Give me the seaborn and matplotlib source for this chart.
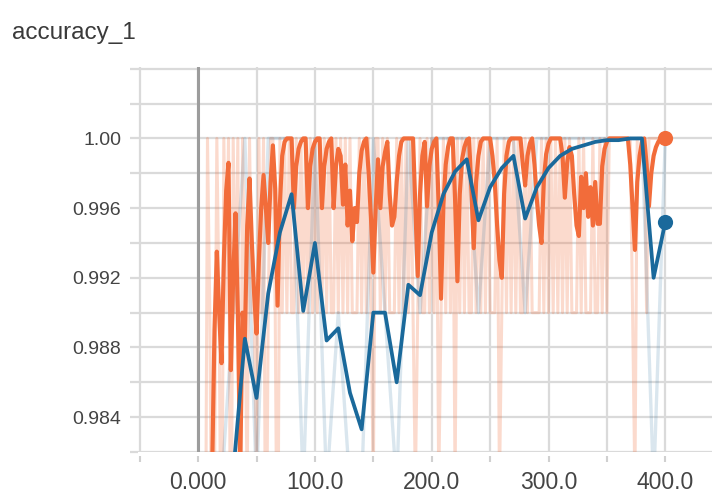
import matplotlib
matplotlib.use("Agg")
import matplotlib.pyplot as plt
import matplotlib.ticker as mticker
import seaborn as sns

# ---- data ----
# orange run: one value every 2 steps (0 .. 400)
orange_steps = list(range(0, 401, 2))
orange_raw = [
    .95, .97, .98, .97, 1, .99, .97, .98, 1, .99,
    .97, 1, .99, 1, .97, 1, .99, 1, .97, 1,
    .99, .98, 1, .99, .99, .98, 1, .99, 1, .97,
    .99, 1, 1, .99, .97, 1, .99, 1, .99, 1,
    .99, .99, 1, .99, 1, .99, 1, .99, 1, .99,
    1, .99, 1, .99, 1, .99, 1, .99, .99, 1,
    .99, 1, .99, 1, .99, 1, .99, .99, .99, 1,
    .99, 1, .99, 1, .99, .98, 1, 1, .99, 1,
    .99, 1, .99, .99, .99, 1, .99, 1, .99, 1,
    .99, 1, .99, .98, .99, 1, .99, .99, 1, .99,
    1, .99, 1, .98, .99, 1, .99, 1, .99, 1,
    .98, 1, .99, 1, .99, 1, .99, .99, 1, .99,
    1, .99, 1, .99, 1, .99, .99, .99, 1, .98,
    .99, 1, .99, 1, .99, 1, .99, 1, .99, .99,
    1, .99, 1, .99, .99, .99, .99, 1, .99, 1,
    .99, 1, .99, 1, .99, 1, .99, 1, .99, 1,
    .99, .99, .99, 1, .99, 1, .99, .99, .99, 1,
    .99, .99, 1, .99, 1, .99, 1, 1, 1, 1,
    1, 1, 1, 1, 1, 1, .99, .98, 1, 1,
    1, 1, .99, 1, 1, 1, 1, 1, 1, 1,
    1,
]
orange_smooth = [
    0.930, 0.950, 0.960, 0.970, 0.975, 0.978, 0.981, 0.989, 0.9935, 0.9900,
    0.9871, 0.9930, 0.9970, 0.9986, 0.9867, 0.9920, 0.9957, 0.9900, 0.9810, 0.9900,
    0.9885, 0.9950, 0.9977, 0.9940, 0.9910, 0.9888, 0.9930, 0.9960, 0.9979, 0.9960,
    0.9940, 0.9975, 0.9996, 0.9971, 0.9904, 0.9962, 0.9990, 0.9998, 1.0, 1.0,
    1.0, 0.9960, 0.9984, 0.9994, 0.9998, 1.0, 1.0, 0.9960, 0.9984, 0.9994,
    0.9998, 1.0, 1.0, 0.9960, 0.9984, 0.9994, 0.9998, 1.0, 0.9960, 0.9984,
    0.9994, 0.9990, 0.9962, 0.9985, 0.9950, 0.9970, 0.9941, 0.9960, 0.9952, 0.9980,
    0.9993, 0.9998, 1.0, 0.9980, 0.9954, 0.9923, 0.9960, 0.9988, 0.9960, 0.9984,
    0.9992, 0.9998, 0.9968, 0.9950, 0.9955, 0.9975, 0.9990, 0.9998, 1.0, 1.0,
    1.0, 1.0, 1.0, 0.9960, 0.9921, 0.9968, 0.9990, 0.9998, 0.9961, 0.9984,
    0.9994, 0.9998, 1.0, 0.9960, 0.9908, 0.9962, 0.9985, 0.9995, 1.0, 1.0,
    0.9965, 0.9918, 0.9968, 0.9988, 0.9995, 0.9999, 1.0, 0.9970, 0.9937, 0.9975,
    0.9990, 0.9998, 1.0, 1.0, 1.0, 1.0, 0.9990, 0.9975, 0.9950, 0.9930,
    0.9920, 0.9968, 0.9990, 0.9998, 1.0, 1.0, 1.0, 1.0, 1.0, 0.9985,
    0.9973, 0.9990, 0.9997, 1.0, 0.9985, 0.9965, 0.9950, 0.9940, 0.9976, 0.9991,
    0.9997, 1.0, 1.0, 1.0, 1.0, 1.0, 0.9990, 0.9966, 0.9986, 0.9995,
    0.9990, 0.9968, 0.9950, 0.9944, 0.9978, 0.9960, 0.9980, 0.9955, 0.9972, 0.9950,
    0.9975, 0.9951, 0.9951, 0.9984, 0.9994, 0.9998, 1.0, 1.0, 1.0, 1.0,
    1.0, 1.0, 1.0, 1.0, 1.0, 0.9985, 0.9960, 0.9936, 0.9975, 0.9990,
    0.9998, 1.0, 0.9985, 0.9961, 0.9980, 0.9990, 0.9995, 0.9998, 1.0, 1.0,
    1.0,
]

# blue run: one value every 10 steps
blue_steps = list(range(0, 401, 10))
blue_raw = [
    .93, .97, .98, .99, 1, .98, 1, 1, 1, .98,
    1, .98, .99, .98, .98, 1, .99, .98, 1, .99,
    1, 1, 1, 1, .99, 1, 1, 1, .99, 1,
    1, 1, 1, 1, 1, 1, 1, 1, 1, .98,
    1,
]
blue_smooth = [
    0.930, 0.955, 0.968, 0.9808, 0.9885, 0.9851, 0.9911, 0.9946, 0.9968, 0.9901,
    0.9940, 0.9884, 0.9891, 0.9854, 0.9833, 0.9900, 0.9900, 0.9860, 0.9916, 0.9910,
    0.9946, 0.9968, 0.9981, 0.9988, 0.9953, 0.9972, 0.9983, 0.9990, 0.9954, 0.9972,
    0.9983, 0.9990, 0.9994, 0.9996, 0.9998, 0.9999, 0.9999, 1.0, 1.0, 0.9920,
    0.9952,
]

ORANGE = "#f26c3a"
BLUE = "#1a699b"

sns.set_theme(style="white")
plt.rcParams["font.family"] = ["Liberation Sans", "DejaVu Sans"]

fig = plt.figure(figsize=(7.12, 4.96), dpi=100)
ax = fig.add_axes([138 / 712, 1 - 452 / 496, 1 - 138 / 712, (452 - 67) / 496])

# faint raw curves
sns.lineplot(x=orange_steps, y=orange_raw, color=ORANGE, alpha=0.25, lw=2.2,
             estimator=None, sort=False, ax=ax)
sns.lineplot(x=blue_steps, y=blue_raw, color=BLUE, alpha=0.16, lw=2.4,
             estimator=None, sort=False, ax=ax)
# smoothed curves
sns.lineplot(x=orange_steps, y=orange_smooth, color=ORANGE, lw=3.0,
             estimator=None, sort=False, ax=ax)
sns.lineplot(x=blue_steps, y=blue_smooth, color=BLUE, lw=2.7,
             estimator=None, sort=False, ax=ax)
# last-value dots
ax.scatter([orange_steps[-1]], [orange_smooth[-1]], s=120, color=ORANGE,
           zorder=5, clip_on=False, linewidths=0)
ax.scatter([blue_steps[-1]], [blue_smooth[-1]], s=120, color=BLUE,
           zorder=5, clip_on=False, linewidths=0)

ax.axvline(0, color="#9c9c9c", lw=2.2, zorder=1)

ax.set_xlim(-51.5, 440)
ax.set_ylim(0.982, 1.0041)
ax.xaxis.set_major_locator(mticker.MultipleLocator(100))
ax.xaxis.set_minor_locator(mticker.MultipleLocator(50))
ax.yaxis.set_major_locator(mticker.MultipleLocator(0.004))
ax.yaxis.set_minor_locator(mticker.MultipleLocator(0.002))
ax.xaxis.set_major_formatter(mticker.FuncFormatter(
    lambda v, p: "0.000" if abs(v) < 1e-9 else f"{v:.1f}"))


def ylab(v, p):
    if v > 1.001:
        return ""
    if abs(v - 1) < 1e-9:
        return "1.00"
    return f"{v:.3f}"


ax.yaxis.set_major_formatter(mticker.FuncFormatter(ylab))

ax.set_axisbelow(True)
ax.grid(which="both", color="#dadada", lw=1.6)
for s in ax.spines.values():
    s.set_visible(False)
ax.spines["bottom"].set_position(("outward", 3))

ax.tick_params(axis="x", which="both", bottom=True, length=4, width=1.5,
               color="#d0d0d0", pad=7, labelsize=16.5, labelcolor="#444444")
ax.tick_params(axis="y", which="both", left=True, length=6, width=1.6,
               color="#dadada", pad=6, labelsize=14, labelcolor="#444444")
ax.set_xlabel("")
ax.set_ylabel("")

fig.text(12 / 712, 1 - 33 / 496, "accuracy_1", fontsize=17.5, color="#3a3a3a",
         va="center", ha="left")

fig.savefig("out.png", dpi=100, facecolor="white")
